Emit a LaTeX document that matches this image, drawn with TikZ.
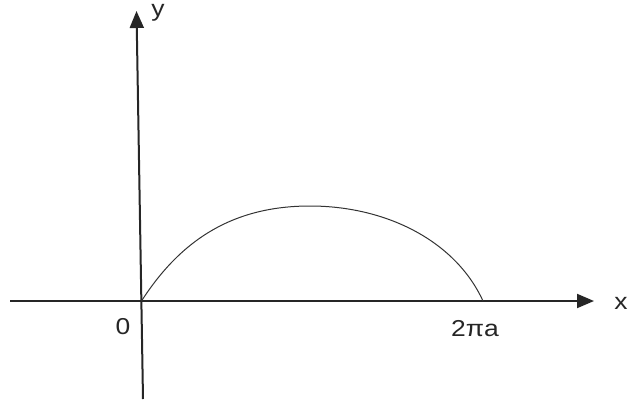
\documentclass[tikz,border=0pt]{standalone}
\usepackage{fontspec}
\setmainfont{Liberation Sans}
\usetikzlibrary{arrows.meta}
\begin{document}
\begin{tikzpicture}[x=1pt, y=-1pt,
    axis/.style={line width=2pt, draw=black!85, -{Triangle[length=17pt, width=14pt]}},
    arch/.style={line width=1pt, draw=black!80},
    lbl/.style={font=\fontsize{23}{26}\selectfont, inner sep=0pt, text=black!85, anchor=base}
]
\useasboundingbox (0,0) rectangle (628,404);

% Axis end points
\coordinate (xs) at (10,301);
\coordinate (xe) at (594,301);
\coordinate (ys) at (143,399);
\coordinate (ye) at (136.5,11);

% Arch end points
\coordinate (O) at (141.5,301);
\coordinate (T) at (310,206);
\coordinate (E) at (483,301);

% Axes
\draw[axis] (xs) -- (xe);
\draw[axis] (ys) -- (ye);

% Arch
\draw[arch] (O) .. controls (182,238) and (235,206) .. (T)
            .. controls (385,206) and (455,240) .. (E);

% Labels
\node[lbl] (ylab) at (158,17) {\scalebox{1.15}[1]{y}};
\node[lbl] (xlab) at (621,309) {\scalebox{1.15}[1]{x}};
\node[lbl] (olab) at (123,334) {\scalebox{1.15}[1]{0}};
\node[lbl] (alab) at (475,336) {\scalebox{1.15}[1]{2πa}};

\end{tikzpicture}
\end{document}
